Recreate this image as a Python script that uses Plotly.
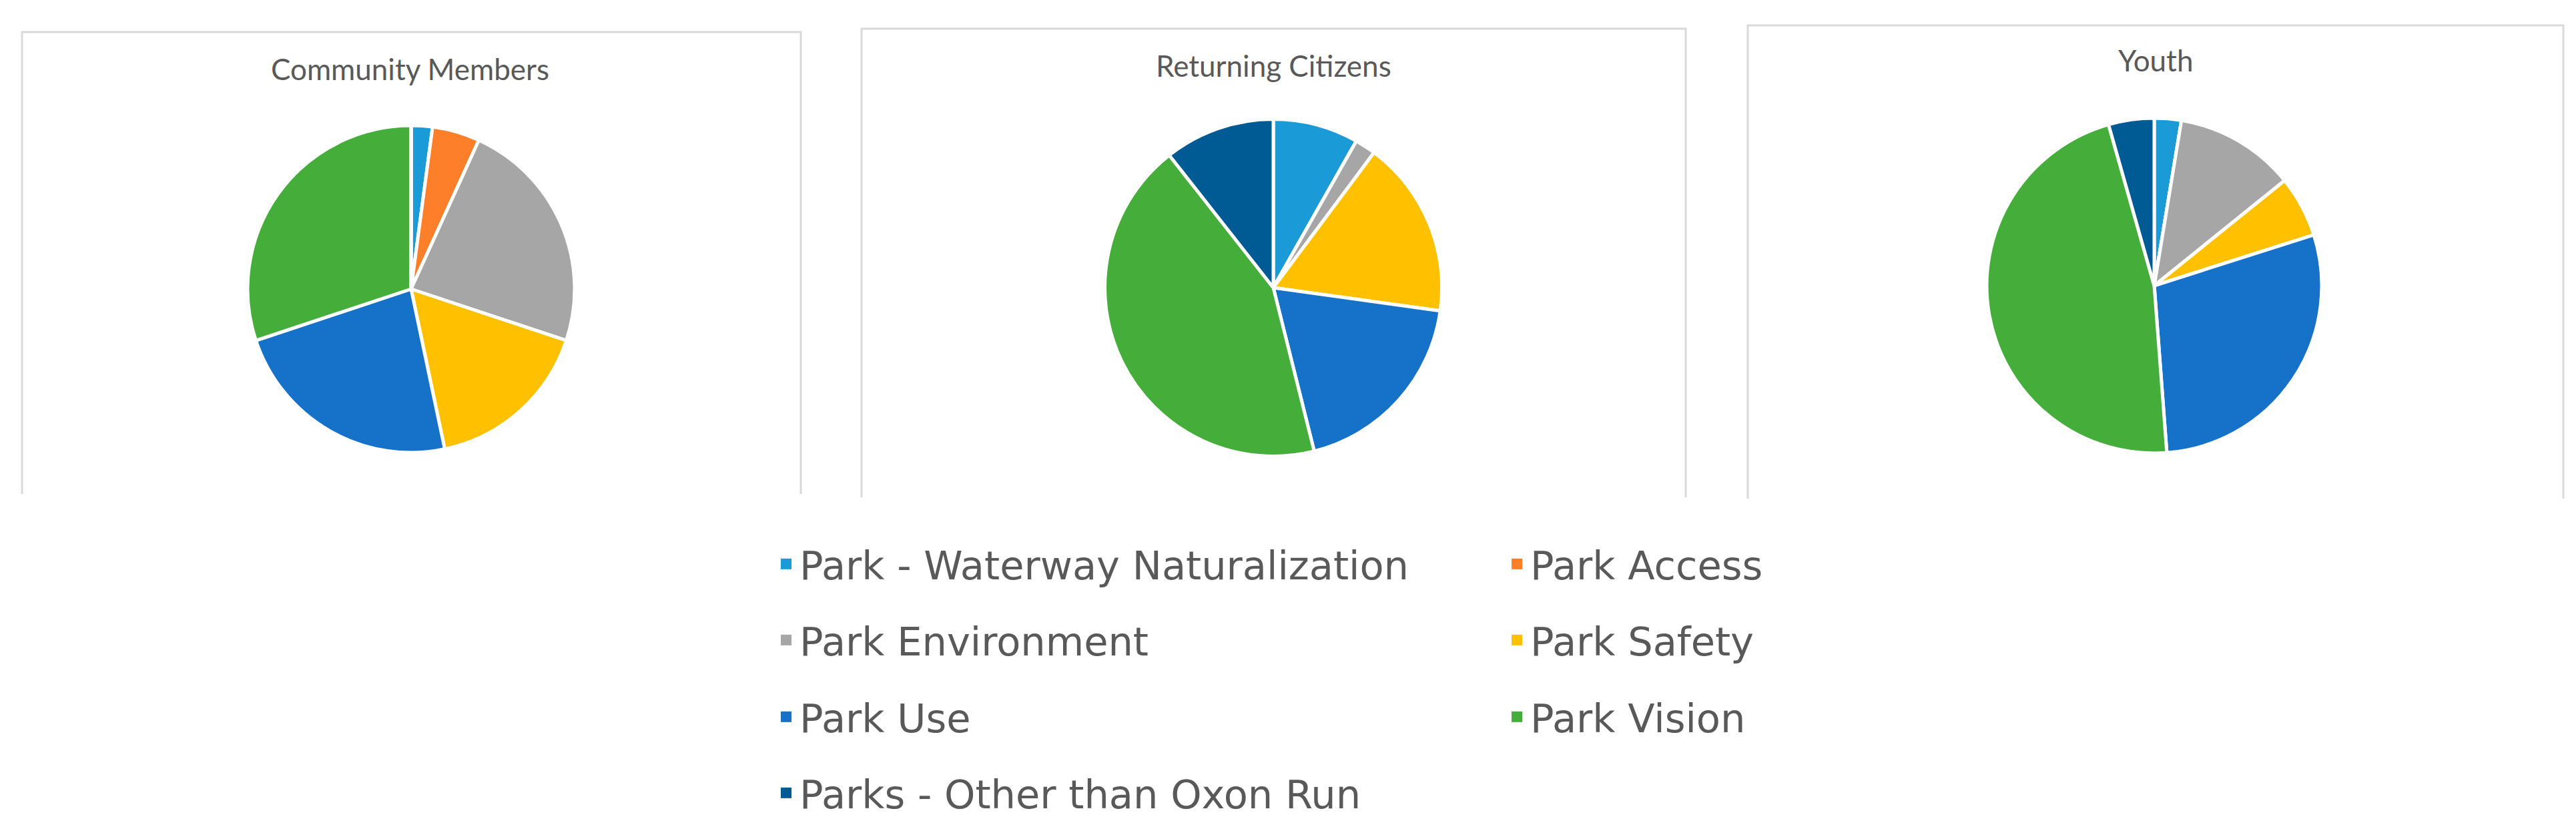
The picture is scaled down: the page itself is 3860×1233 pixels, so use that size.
import plotly.graph_objects as go

W, H = 3860, 1233

categories = [
    "Park - Waterway Naturalization",
    "Park Access",
    "Park Environment",
    "Park Safety",
    "Park Use",
    "Park Vision",
    "Parks - Other than Oxon Run",
]
colors = ["#1A9BD7", "#FE7F2A", "#A6A6A6", "#FFC000", "#1672C8", "#45AE3B", "#005B94"]

# share of comments per topic (%)
community_members = [2.1, 4.7, 23.3, 16.6, 23.2, 30.1, 0]
returning_citizens = [8.2, 0, 2.0, 17.0, 18.9, 43.3, 10.6]
youth = [2.6, 0, 11.6, 5.9, 28.7, 46.8, 4.4]

groups = ["Community Members", "Returning Citizens", "Youth"]
group_values = [community_members, returning_citizens, youth]

# panel layout in pixels
pie_centers = [(608, 425), (1900, 423), (3220, 420)]
pie_sizes = [490, 505, 502]
title_pos = [(606, 95), (1900, 90), (3222, 82)]
panels = [(25, 1192, 40, 732), (1283, 2518, 35, 737), (2611, 3833, 30, 739)]
legend_rows = [
    (["Park - Waterway Naturalization", "Park Access"], 837),
    (["Park Environment", "Park Safety"], 951),
    (["Park Use", "Park Vision"], 1066),
    (["Parks - Other than Oxon Run"], 1180),
]


def fx(x):
    return x / W


def fy(y):
    return 1 - y / H


fig = go.Figure()

for name, vals, (cx, cy), d in zip(groups, group_values, pie_centers, pie_sizes):
    fig.add_trace(
        go.Pie(
            labels=categories,
            values=vals,
            name=name,
            sort=False,
            direction="clockwise",
            rotation=0,
            textinfo="none",
            showlegend=False,
            marker={"colors": colors, "line": {"color": "#ffffff", "width": 5}},
            domain={
                "x": [fx(cx - d / 2), fx(cx + d / 2)],
                "y": [fy(cy + d / 2), fy(cy - d / 2)],
            },
        )
    )

# legend entries (square swatches) split over four rows
for i, (row, _) in enumerate(legend_rows):
    key = "legend" if i == 0 else f"legend{i + 1}"
    for label in row:
        fig.add_trace(
            go.Scatter(
                x=[None],
                y=[None],
                mode="markers",
                name=label,
                legend=key,
                marker={"symbol": "square", "size": 16, "color": colors[categories.index(label)]},
                hoverinfo="skip",
            )
        )

shapes = []
for x0, x1, y0, y1 in panels:
    shapes.append(
        {
            "type": "path",
            "xref": "paper",
            "yref": "paper",
            "path": f"M {fx(x0)},{fy(y1)} L {fx(x0)},{fy(y0)} L {fx(x1)},{fy(y0)} L {fx(x1)},{fy(y1)}",
            "line": {"color": "#d9d9d9", "width": 3},
        }
    )

annotations = []
for name, (tx, ty) in zip(groups, title_pos):
    annotations.append(
        {
            "text": name,
            "xref": "paper",
            "yref": "paper",
            "x": fx(tx),
            "y": fy(ty),
            "xanchor": "center",
            "yanchor": "middle",
            "showarrow": False,
            "font": {"family": "Lato, sans-serif", "size": 44, "color": "#595959"},
        }
    )

legend_style = {
    "orientation": "h",
    "xref": "paper",
    "yref": "paper",
    "x": fx(1150),
    "xanchor": "left",
    "yanchor": "middle",
    "entrywidth": 1050,
    "bgcolor": "rgba(0,0,0,0)",
    "borderwidth": 0,
    "font": {"family": "DejaVu Sans, sans-serif", "size": 59, "color": "#595959"},
}
legends = {}
for i, (_, ry) in enumerate(legend_rows):
    key = "legend" if i == 0 else f"legend{i + 1}"
    legends[key] = {**legend_style, "y": fy(ry)}

fig.update_layout(
    width=W,
    height=H,
    margin={"l": 0, "r": 0, "t": 0, "b": 0},
    paper_bgcolor="#ffffff",
    plot_bgcolor="#ffffff",
    xaxis={"visible": False},
    yaxis={"visible": False},
    shapes=shapes,
    annotations=annotations,
    **legends,
)

fig.write_html("out.html")
